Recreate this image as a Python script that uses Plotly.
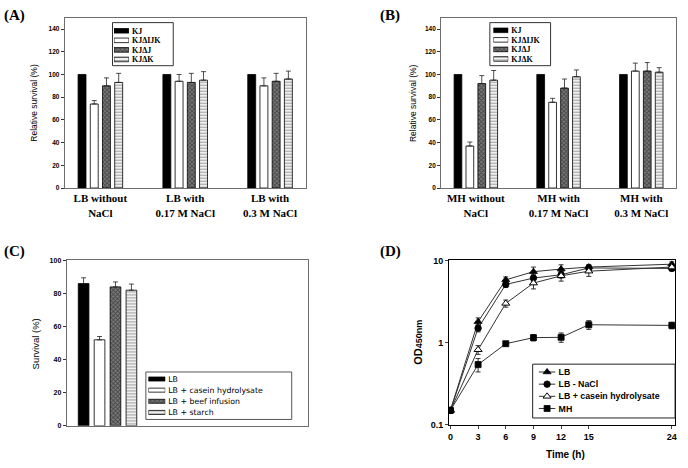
import plotly.graph_objects as go

W, H = 688, 468

# ---------------- data ----------------
strains = ["KJ", "KJΔIJK", "KJΔJ", "KJΔK"]

cond_a = ["LB without<br>NaCl", "LB with<br>0.17 M NaCl", "LB with<br>0.3 M NaCl"]
a_kj = [100, 100, 100]
a_ijk = [74, 94, 90]
a_j = [90, 93, 94]
a_k = [93, 95, 96]
a_kj_err = [0, 0, 0]
a_ijk_err = [3, 6, 7]
a_j_err = [7, 8, 7]
a_k_err = [8, 7.5, 7]

cond_b = ["MH without<br>NaCl", "MH with<br>0.17 M NaCl", "MH with<br>0.3 M NaCl"]
b_kj = [100, 100, 100]
b_ijk = [37, 75.5, 103]
b_j = [92, 88, 103]
b_k = [95, 98, 102]
b_kj_err = [0, 0, 0]
b_ijk_err = [3.5, 3.5, 7]
b_j_err = [7, 8, 7.5]
b_k_err = [8.5, 6, 4]

media_c = ["LB", "LB + casein hydrolysate", "LB + beef infusion", "LB + starch"]
c_surv = [86, 52, 84, 82]
c_err = [3.5, 2, 3, 3.7]

time_d = [0, 3, 6, 9, 12, 15, 24]
series_d = ["LB", "LB - NaCl", "LB + casein hydrolysate", "MH"]
d_lb = [0.15, 1.8, 5.8, 7.3, 7.85, 8.3, 9.0]
d_lb_nonacl = [0.15, 1.5, 5.1, 6.1, 6.7, 8.1, 8.0]
d_casein = [0.15, 0.82, 3.0, 5.3, 6.5, 7.4, 8.3]
d_mh = [0.15, 0.54, 0.97, 1.15, 1.16, 1.65, 1.62]
d_lb_err = [0.01, 0.2, 0.5, 1.0, 1.0, 0.6, 0.6]
d_lb_nonacl_err = [0.01, 0.15, 0.4, 0.6, 0.6, 0.6, 0.5]
d_casein_err = [0.01, 0.1, 0.3, 0.8, 0.9, 1.0, 0.8]
d_mh_err = [0.01, 0.1, 0.05, 0.1, 0.15, 0.2, 0.15]


# ---------------- helpers ----------------
def px(x):
    return x / W


def py(y):
    return 1 - y / H


SANS = "Liberation Sans"
SERIF = "Liberation Serif"


def bar_style(i):
    line = dict(color="black", width=0.8)
    if i == 0:
        return dict(color="black", line=line)
    if i == 1:
        return dict(color="white", line=line)
    if i == 2:
        return dict(color="#111", line=line,
                    pattern=dict(shape="x", fgcolor="#111", bgcolor="#7a7a7a",
                                 size=3, solidity=0.5))
    return dict(color="#444", line=line,
                pattern=dict(shape="-", fgcolor="#444", bgcolor="white",
                             size=3, solidity=0.45))


fig = go.Figure()

# ---- panels A and B ----
for (xa, ya, cats, vals, errs) in [
    ("x", "y", cond_a, [a_kj, a_ijk, a_j, a_k], [a_kj_err, a_ijk_err, a_j_err, a_k_err]),
    ("x2", "y2", cond_b, [b_kj, b_ijk, b_j, b_k], [b_kj_err, b_ijk_err, b_j_err, b_k_err]),
]:
    for i, name in enumerate(strains):
        show_err = any(e > 0 for e in errs[i])
        fig.add_trace(go.Bar(
            x=cats, y=vals[i], name=name, xaxis=xa, yaxis=ya,
            marker=bar_style(i), showlegend=False,
            error_y=dict(type="data", symmetric=False, array=errs[i],
                         arrayminus=[0] * len(errs[i]), color="#222",
                         thickness=0.8, width=2.5, visible=show_err),
        ))

# ---- panel C ----
for i, name in enumerate(media_c):
    fig.add_trace(go.Bar(
        x=[name], y=[c_surv[i]], name=name, xaxis="x3", yaxis="y3",
        width=0.67, offset=-0.335, marker=bar_style(i), showlegend=False,
        error_y=dict(type="data", symmetric=False, array=[c_err[i]],
                     arrayminus=[0], color="#222", thickness=0.8, width=2.5),
    ))

# ---- panel D ----
d_vals = [d_lb, d_lb_nonacl, d_casein, d_mh]
d_errs = [d_lb_err, d_lb_nonacl_err, d_casein_err, d_mh_err]
d_markers = [
    dict(symbol="triangle-up", size=7, color="black", line=dict(color="black", width=0.8)),
    dict(symbol="circle", size=6.5, color="black", line=dict(color="black", width=0.8)),
    dict(symbol="triangle-up", size=7, color="white", line=dict(color="black", width=1)),
    dict(symbol="square", size=6, color="black", line=dict(color="black", width=0.8)),
]
for i, name in enumerate(series_d):
    fig.add_trace(go.Scatter(
        x=time_d, y=d_vals[i], name=name, xaxis="x4", yaxis="y4",
        mode="lines+markers", line=dict(color="#333", width=1),
        marker=d_markers[i], showlegend=False,
        error_y=dict(type="data", array=d_errs[i], color="black",
                     thickness=0.8, width=2.5),
    ))

# ---- hand-made legends (mini subplots) ----
for xa, ya, names in [("x5", "y5", strains), ("x6", "y6", strains), ("x7", "y7", media_c)]:
    w = 0.36 if xa == "x7" else 0.48
    for i, name in enumerate(names):
        fig.add_trace(go.Bar(
            x=[1], y=[name], orientation="h", xaxis=xa, yaxis=ya,
            width=w, offset=-w / 2, marker=bar_style(i), showlegend=False,
            hoverinfo="skip",
        ))
for i, name in enumerate(series_d):
    fig.add_trace(go.Scatter(
        x=[0, 0.5, 1], y=[name] * 3, xaxis="x8", yaxis="y8",
        mode="lines+markers", line=dict(color="#333", width=1),
        marker=dict(d_markers[i], opacity=[0, 1, 0]), showlegend=False,
        hoverinfo="skip",
    ))

# ---------------- axes ----------------
gray = "#6e6e6e"
tick_small = dict(family=SANS, size=6.5, color="black", weight="bold")
cat_font = dict(family=SERIF, size=11, color="black", weight="bold")


def bar_yaxis(dom, rng, dtick, anchor, fs=6.5):
    return dict(domain=dom, range=rng, dtick=dtick, anchor=anchor,
                ticks="outside", ticklen=3, tickwidth=0.8, tickcolor="#333",
                tickfont=dict(tick_small, size=fs), showline=True, linecolor=gray,
                linewidth=1, mirror=True, showgrid=False, zeroline=False,
                fixedrange=True)


layout = dict(
    width=W, height=H, margin=dict(l=0, r=0, t=0, b=0),
    paper_bgcolor="white", plot_bgcolor="white",
    barmode="group", bargap=0.424, bargroupgap=0.35, showlegend=False,
    xaxis=dict(domain=[px(64), px(306)], anchor="y", type="category",
               range=[-0.42, 2.42], showline=True, linecolor=gray, mirror=True,
               ticks="", tickfont=cat_font, fixedrange=True),
    yaxis=bar_yaxis([py(187), py(13)], [0, 150], 20, "x"),
    xaxis2=dict(domain=[px(442), px(678)], anchor="y2", type="category",
                range=[-0.42, 2.42], showline=True, linecolor=gray, mirror=True,
                ticks="", tickfont=cat_font, fixedrange=True),
    yaxis2=bar_yaxis([py(187), py(13)], [0, 150], 20, "x2"),
    xaxis3=dict(domain=[px(66), px(308)], anchor="y3", type="category",
                range=[-1.06, 14.06], showline=True, linecolor=gray, mirror=True,
                ticks="", showticklabels=False, fixedrange=True),
    yaxis3=bar_yaxis([py(430), py(261)], [0, 100], 20, "x3", fs=7),
    xaxis4=dict(domain=[px(450), px(677)], anchor="y4", range=[-0.15, 24.35],
                tickvals=time_d, ticks="outside", ticklen=3, tickwidth=0.8,
                tickfont=dict(family=SANS, size=9, color="black", weight="bold"),
                ticklabeloverflow="allow",
                showline=True, linecolor="black", linewidth=1, mirror=True,
                showgrid=False, zeroline=False, fixedrange=True),
    yaxis4=dict(domain=[py(429), py(261)], anchor="x4", type="log", range=[-1, 1],
                tickvals=[0.1, 1, 10], ticktext=["0.1", "1", "10"],
                ticks="outside", ticklen=3, tickwidth=0.8,
                tickfont=dict(family=SANS, size=9, color="black", weight="bold"),
                showline=True, linecolor="black", linewidth=1, mirror=True,
                showgrid=False, zeroline=False, fixedrange=True),
)


def legend_axes(xdom, ydom, fontd, names):
    xa = dict(domain=[px(xdom[0]), px(xdom[1])], range=[0, 1], visible=False,
              fixedrange=True)
    ya = dict(domain=[py(ydom[1]), py(ydom[0])], range=[3.5, -0.5], type="category",
              side="right", showline=False, ticks="", showgrid=False,
              tickmode="array", tickvals=names, ticktext=names,
              ticklabeloverflow="allow", ticklabelstandoff=2,
              zeroline=False, tickfont=fontd, fixedrange=True)
    return xa, ya


leg_serif = dict(family=SERIF, size=8, color="black", weight="bold")
xa5, ya5 = legend_axes((113.5, 128.5), (21.5, 60.5), leg_serif, strains)
xa6, ya6 = legend_axes((494.5, 509.5), (21.0, 60.0), leg_serif, strains)
xa7, ya7 = legend_axes((148, 165), (376.5, 422),
                       dict(family="DejaVu Sans", size=7.8, color="black"), media_c)
xa8, ya8 = legend_axes((540, 557), (368.8, 418.5),
                       dict(family=SANS, size=8.8, color="black", weight="bold"), series_d)
for k, (xa, ya) in zip([5, 6, 7, 8], [(xa5, ya5), (xa6, ya6), (xa7, ya7), (xa8, ya8)]):
    xa["anchor"] = f"y{k}"
    ya["anchor"] = f"x{k}"
    layout[f"xaxis{k}"] = xa
    layout[f"yaxis{k}"] = ya

fig.update_layout(**layout)

# legend boxes
for (x0, y0, x1, y1, col) in [(112, 18, 173, 62, "#333"), (491, 18, 552, 62, "#333"),
                              (145.5, 375, 292, 423.5, "#555"), (534, 367, 677, 422, "#222")]:
    fig.add_shape(type="rect", xref="paper", yref="paper",
                  x0=px(x0), x1=px(x1), y0=py(y1), y1=py(y0),
                  line=dict(color=col, width=1), fillcolor="rgba(0,0,0,0)")

# panel letters and axis titles
ann = []
for txt, x, y in [("(A)", 14, 11), ("(B)", 391, 11), ("(C)", 14, 252), ("(D)", 391, 252)]:
    ann.append(dict(text=txt, x=px(x), y=py(y), xref="paper", yref="paper",
                    showarrow=False, xanchor="center", yanchor="middle",
                    font=dict(family=SERIF, size=15, color="black", weight="bold")))
for txt, x, y, fs, bold in [("Relative survival (%)", 33, 100, 8.5, False),
                            ("Relative survival (%)", 414, 100, 8.5, False),
                            ("Survival (%)", 35, 346, 9.5, False),
                            ("OD<span style='font-size:9px'>450nm</span>", 418, 345, 11, True)]:
    ann.append(dict(text=txt, x=px(x), y=py(y), xref="paper", yref="paper",
                    showarrow=False, textangle=-90, xanchor="center", yanchor="middle",
                    font=dict(family=SANS, size=fs, color="black",
                              weight="bold" if bold else "normal")))
ann.append(dict(text="Time (h)", x=px(567), y=py(459), xref="paper", yref="paper",
                showarrow=False, xanchor="center", yanchor="middle",
                font=dict(family=SANS, size=10, color="black", weight="bold")))
fig.update_layout(annotations=ann)

fig.write_html("out.html", config={"displayModeBar": False},
               post_script="document.body.style.margin='0';document.body.style.overflow='hidden';")
